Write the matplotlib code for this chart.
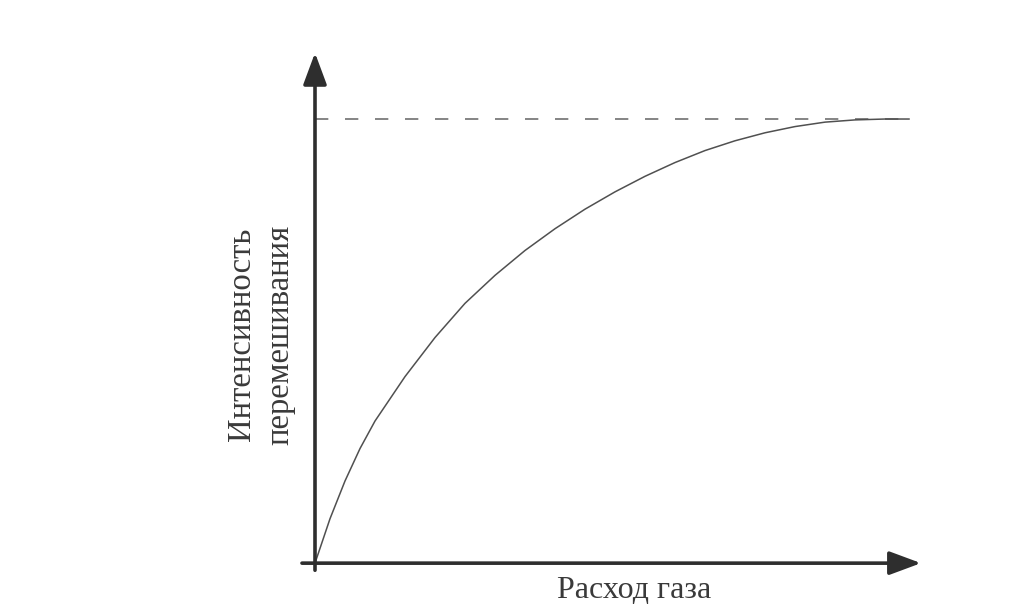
import matplotlib
matplotlib.use("Agg")
import matplotlib.pyplot as plt

# gas flow (arbitrary units) and mixing intensity (fraction of the limit)
flow = [0, 0.25, 0.5, 0.75, 1.0, 1.5, 2.0, 2.5, 3.0, 3.5, 4.0, 4.5, 5.0,
        5.5, 6.0, 6.5, 7.0, 7.5, 8.0, 8.5, 9.0, 9.5, 9.9]
intensity = [0, 0.10, 0.185, 0.258, 0.32, 0.42, 0.508, 0.585, 0.648, 0.704, 0.753,
             0.797, 0.836, 0.871, 0.902, 0.929, 0.951, 0.969, 0.983, 0.993, 0.998,
             1.0, 1.0]
limit = 1.0
limit_x = [0, 10.0]

x_label = "Расход газа"
y_label = "Интенсивность\nперемешивания"

plt.rcParams['font.family'] = ['Liberation Serif', 'DejaVu Serif']

fig = plt.figure(figsize=(10.35, 6.12), dpi=100)
ax = fig.add_axes([0, 0, 1, 1])
ax.set_xlim(-5.25, 12.0)
ax.set_ylim(-0.110, 1.268)
ax.axis('off')

axis_col = '#2e2e2e'
arrow = dict(arrowstyle='-|>,head_length=0.97,head_width=0.36', mutation_scale=20,
             lw=2.6, color=axis_col, shrinkA=0, shrinkB=0)
ax.annotate('', xy=(10.1, 0), xytext=(-0.217, 0), arrowprops=arrow)
ax.annotate('', xy=(0, 1.149), xytext=(0, -0.016), arrowprops=arrow)

ax.plot(limit_x, [limit, limit], color='#707070', lw=1.2, dashes=(8, 10))
ax.plot(flow, intensity, color='#505050', lw=1.1)

ax.text(5.32, -0.061, x_label, ha='center', va='center', fontsize=23, color='#3a3a3a')
ax.text(-0.9, 0.515, y_label, ha='center', va='center', rotation=90,
        fontsize=23.5, color='#3a3a3a', linespacing=1.3)

fig.savefig('out.png', dpi=100, facecolor='white')
